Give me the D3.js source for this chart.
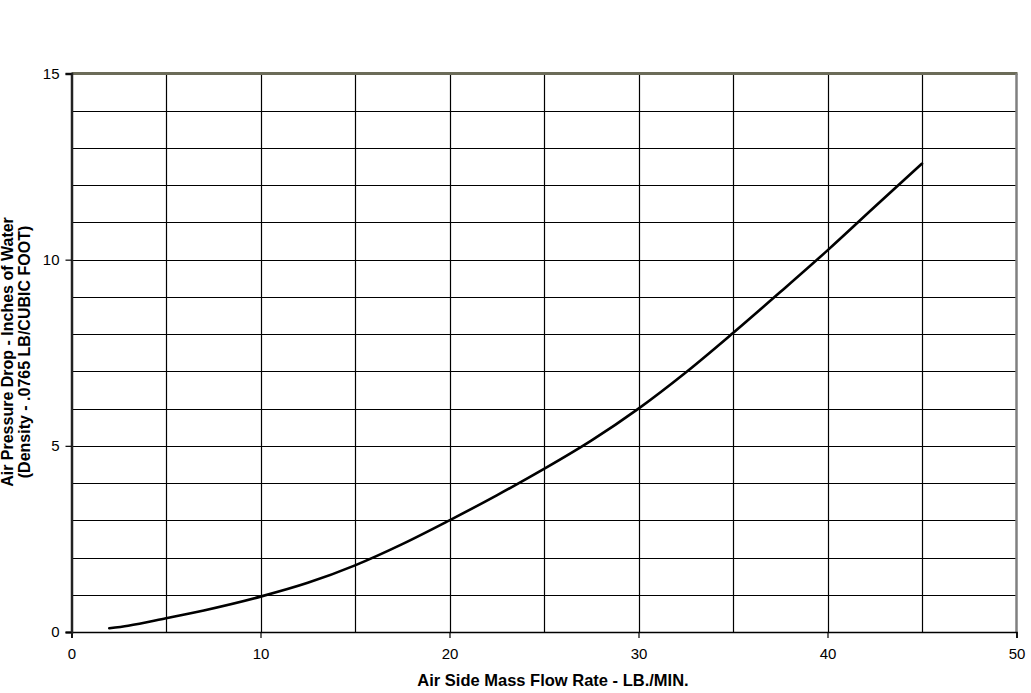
<!DOCTYPE html>
<html>
<head>
<meta charset="utf-8">
<script src="https://cdn.jsdelivr.net/npm/d3@7"></script>
<style>
  html, body { margin: 0; padding: 0; background: #fff; }
  svg { display: block; font-family: "Liberation Sans", Arial, sans-serif; }
</style>
</head>
<body>
<svg id="chart" width="1031" height="693"></svg>
<script>
// Data
const flowRate = [2, 3, 5, 7, 10, 12.5, 15, 17.5, 20, 22.5, 25, 27.5, 30, 32.5, 35, 37.5, 40, 42.5, 45];
const pressureDrop = [0.10, 0.17, 0.37, 0.58, 0.95, 1.32, 1.79, 2.36, 3.0, 3.67, 4.38, 5.14, 6.0, 6.97, 8.03, 9.13, 10.25, 11.42, 12.58];
const xTicks = [0, 10, 20, 30, 40, 50];
const xGrid = [5, 10, 15, 20, 25, 30, 35, 40, 45];
const yTicks = [0, 5, 10, 15];
const yGrid = [1, 2, 3, 4, 5, 6, 7, 8, 9, 10, 11, 12, 13, 14];
const xTitle = "Air Side Mass Flow Rate - LB./MIN.";
const yTitle1 = "Air Pressure Drop - Inches of Water";
const yTitle2 = "(Density - .0765 LB/CUBIC FOOT)";

(function () {
const svg = d3.select("#chart");
const pL = 71.5, pR = 1016.5, pT = 73.5, pB = 632;
const x = d3.scaleLinear().domain([0, 50]).range([pL, pR]);
const y = d3.scaleLinear().domain([0, 15]).range([pB, pT]);

// grid
svg.append("g").selectAll("line").data(xGrid).join("line")
  .attr("x1", d => Math.round(x(d)) + 0.5).attr("x2", d => Math.round(x(d)) + 0.5)
  .attr("y1", pT).attr("y2", pB)
  .attr("stroke", "#000").attr("stroke-width", 1.2);
svg.append("g").selectAll("line").data(yGrid).join("line")
  .attr("x1", pL).attr("x2", pR)
  .attr("y1", d => Math.round(y(d)) + 0.5).attr("y2", d => Math.round(y(d)) + 0.5)
  .attr("stroke", "#000").attr("stroke-width", 1.2);

// borders
svg.append("line").attr("x1", pL).attr("x2", pR + 1).attr("y1", pT).attr("y2", pT)
  .attr("stroke", "#6b6b58").attr("stroke-width", 3);
svg.append("line").attr("x1", pR).attr("x2", pR).attr("y1", pT).attr("y2", pB)
  .attr("stroke", "#808080").attr("stroke-width", 2.5);

// axes
const xAxis = d3.axisBottom(x).tickValues(xTicks).tickSize(6).tickPadding(10).tickFormat(d3.format("d"));
const gx = svg.append("g").attr("transform", `translate(0,${pB})`).call(xAxis);
gx.select(".domain").attr("stroke", "#000").attr("stroke-width", 1.6);
gx.selectAll(".tick line").attr("stroke", "#000").attr("stroke-width", 1.2);
gx.selectAll(".tick text").attr("font-size", 15).attr("fill", "#000")
  .attr("font-family", "'Liberation Sans', Arial, sans-serif");

const yAxis = d3.axisLeft(y).tickValues(yTicks).tickSize(6).tickPadding(6).tickFormat(d3.format("d"));
const gy = svg.append("g").attr("transform", `translate(${pL},0)`).call(yAxis);
gy.select(".domain").attr("stroke", "#222").attr("stroke-width", 2.5);
gy.selectAll(".tick line").attr("stroke", "#000").attr("stroke-width", 1.2);
gy.selectAll(".tick text").attr("font-size", 15).attr("fill", "#000")
  .attr("font-family", "'Liberation Sans', Arial, sans-serif");

// curve
const pts = flowRate.map((v, i) => [v, pressureDrop[i]]);
const line = d3.line().x(d => x(d[0])).y(d => y(d[1])).curve(d3.curveMonotoneX);
svg.append("path").datum(pts).attr("d", line)
  .attr("fill", "none").attr("stroke", "#000").attr("stroke-width", 2.6)
  .attr("stroke-linecap", "round");

// titles
svg.append("text").attr("x", 553).attr("y", 686).attr("text-anchor", "middle")
  .attr("font-size", 16.5).attr("font-weight", "bold").text(xTitle);
const yt = svg.append("g").attr("transform", "translate(13,352) rotate(-90)");
yt.append("text").attr("x", 0).attr("y", 0).attr("text-anchor", "middle")
  .attr("font-size", 16).attr("font-weight", "bold").text(yTitle1);
yt.append("text").attr("x", 0).attr("y", 17).attr("text-anchor", "middle")
  .attr("font-size", 16).attr("font-weight", "bold").text(yTitle2);
})();
</script>
</body>
</html>
